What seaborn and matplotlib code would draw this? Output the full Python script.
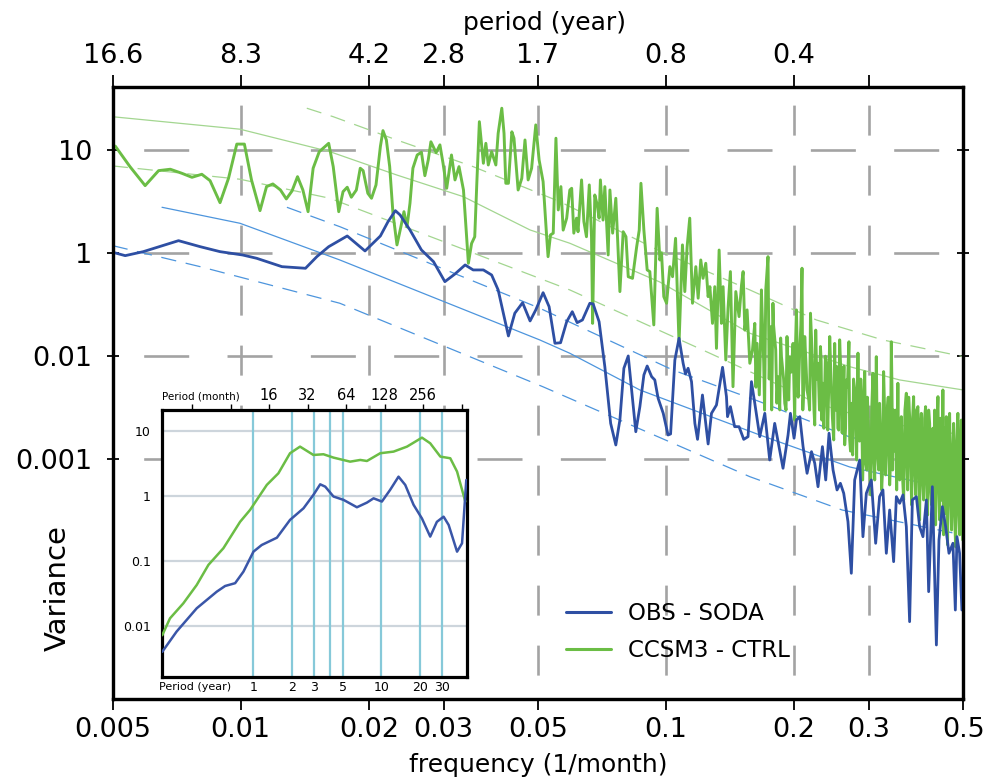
import numpy as np
import pandas as pd
import matplotlib
matplotlib.use("Agg")
import matplotlib.pyplot as plt
import seaborn as sns
from matplotlib.lines import Line2D

sns.set_theme(style="white")
plt.rcParams["font.family"] = ["DejaVu Sans"]
plt.rcParams["lines.scale_dashes"] = False
plt.rcParams["text.color"] = "black"
plt.rcParams["axes.labelcolor"] = "black"
plt.rcParams["xtick.color"] = "black"
plt.rcParams["ytick.color"] = "black"
plt.rcParams["axes.edgecolor"] = "black"

# ---------------- data ----------------
# OBS - SODA spectrum
obs_freq = [0.005, 0.00535, 0.0059, 0.00714, 0.00803, 0.00894, 0.0101, 0.0109, 0.0125, 0.0142,
            0.0151, 0.0161, 0.0178, 0.0196, 0.0213, 0.0222, 0.0231, 0.0237, 0.0250, 0.0266,
            0.0284, 0.0302, 0.0319, 0.0337, 0.0352, 0.0372, 0.0389, 0.0403, 0.0426, 0.0441,
            0.0460, 0.0479, 0.0494, 0.0514, 0.0531, 0.0548, 0.0565, 0.0584, 0.0602, 0.0618,
            0.0636, 0.0662, 0.0674, 0.0696, 0.0718, 0.0741, 0.0762, 0.0779, 0.0796, 0.0815,
            0.0830, 0.0849, 0.0868, 0.0887, 0.0903, 0.0925, 0.0941, 0.0958, 0.0985, 0.1011,
            0.1025, 0.1049, 0.1073, 0.1097, 0.1111, 0.1127, 0.1148, 0.1169, 0.1186, 0.1218,
            0.1256, 0.1279, 0.1314, 0.1358, 0.1387, 0.1395, 0.1417, 0.1450, 0.1485, 0.1523,
            0.1559, 0.1588, 0.1617, 0.1661, 0.1707, 0.1753, 0.1801, 0.1834, 0.1884, 0.1936,
            0.1961, 0.2000, 0.2026, 0.2063, 0.2100, 0.2146, 0.2198, 0.2237, 0.2277, 0.2332,
            0.2374, 0.2417, 0.2470, 0.2524, 0.2570, 0.2617, 0.2678, 0.2727, 0.2777, 0.2853,
            0.2904, 0.2958, 0.3039, 0.3111, 0.3178, 0.3236, 0.3296, 0.3356, 0.3429, 0.3480,
            0.3543, 0.3607, 0.3673, 0.3739, 0.3795, 0.3878, 0.3947, 0.4019, 0.4094, 0.4145,
            0.4229, 0.4322, 0.4383, 0.4464, 0.4544, 0.4627, 0.4727, 0.4789, 0.4831, 0.4901,
            0.4962]
obs_var = [1.018, 0.944, 1.032, 1.319, 1.153, 1.032, 0.958, 0.890, 0.738, 0.712,
           0.923, 1.153, 1.465, 1.048, 1.465, 2.017, 2.577, 2.342, 1.675, 1.072,
           0.825, 0.528, 0.627, 0.767, 0.686, 0.686, 0.613, 0.439, 0.157, 0.261,
           0.330, 0.2195, 0.281, 0.413, 0.302, 0.1334, 0.135, 0.216, 0.270, 0.2113,
           0.2245, 0.326, 0.321, 0.216, 0.0791, 0.0223, 0.01376, 0.0241, 0.0763, 0.1005,
           0.0470, 0.0185, 0.0324, 0.0657, 0.0803, 0.0633, 0.0588, 0.0391, 0.0279, 0.0172,
           0.0176, 0.0918, 0.1492, 0.0853, 0.0672, 0.0763, 0.0566, 0.0223, 0.0156, 0.0420,
           0.01407, 0.0279, 0.0336, 0.0780, 0.0405, 0.0259, 0.0324, 0.0207, 0.0207, 0.0156,
           0.01657, 0.0566, 0.0349, 0.01657, 0.0279, 0.00984, 0.0223, 0.01481, 0.00818, 0.0172,
           0.0279, 0.0160, 0.0241, 0.0259, 0.01326, 0.00731, 0.01185, 0.00915, 0.00542, 0.01326,
           0.00630, 0.01788, 0.00787, 0.00504, 0.00585, 0.00468, 0.00248, 0.000784, 0.00630, 0.00984,
           0.001775, 0.00468, 0.00630, 0.001532, 0.00434, 0.00504, 0.001225, 0.00322, 0.001016, 0.00434,
           0.00374, 0.00451, 0.00222, 0.000266, 0.00403, 0.00434, 0.00222, 0.001775, 0.00403, 0.000520,
           0.00542, 0.000158, 0.00165, 0.00347, 0.00222, 0.001226, 0.001532, 0.000345, 0.001775, 0.001226,
           0.000345]

# CCSM3 - CTRL spectrum
ctrl_freq = [0.00507, 0.00549, 0.00596, 0.00641, 0.00683, 0.00727, 0.00768, 0.00810, 0.00847, 0.00894,
             0.00936, 0.00979, 0.0102, 0.0106, 0.0111, 0.0115, 0.0119, 0.0124, 0.0128, 0.0132,
             0.0136, 0.0140, 0.0144, 0.0148, 0.0153, 0.0161, 0.0165, 0.0170, 0.0174, 0.0178,
             0.0182, 0.0187, 0.0191, 0.0194, 0.0199, 0.0203, 0.0208, 0.0213, 0.0216, 0.0220,
             0.0224, 0.0228, 0.0233, 0.0238, 0.0242, 0.0246, 0.0250, 0.0254, 0.0260, 0.0266,
             0.0271, 0.0276, 0.0280, 0.0288, 0.0294, 0.0299, 0.0305, 0.0313, 0.0319, 0.0326,
             0.0334, 0.0338, 0.0343, 0.0349, 0.0355, 0.0359, 0.0364, 0.0372, 0.0377, 0.0382,
             0.0389, 0.0398, 0.0403, 0.0411, 0.0416, 0.0420, 0.0426, 0.0434, 0.0439, 0.0449,
             0.0458, 0.0466, 0.0474, 0.0483, 0.0494, 0.0503, 0.0514, 0.0524, 0.0528, 0.0535,
             0.0543, 0.0551, 0.0558, 0.0566, 0.0573, 0.0584, 0.0594, 0.0600, 0.0607, 0.0616,
             0.0621, 0.0633, 0.0641, 0.0650, 0.0660, 0.0668, 0.0672, 0.0680, 0.0689, 0.0696,
             0.0701, 0.0711, 0.0718, 0.0731, 0.0738, 0.0749, 0.0762, 0.0779, 0.0793, 0.0805,
             0.0815, 0.0834, 0.0853, 0.0865, 0.0873, 0.0887, 0.0903, 0.0916, 0.0936, 0.0953,
             0.0967, 0.0976, 0.0988, 0.1003, 0.1021, 0.1036, 0.1053, 0.1073, 0.1093, 0.1107,
             0.1121, 0.1137, 0.1154, 0.1175, 0.1190, 0.1207, 0.1222, 0.1240, 0.1256, 0.1268,
             0.1286, 0.1302, 0.1314, 0.1333, 0.1350, 0.1362, 0.1382, 0.1399, 0.1417, 0.1437,
             0.1459, 0.1485, 0.1505, 0.1518, 0.1532, 0.1551, 0.1574,
             0.1597, 0.1617, 0.1637, 0.1657, 0.1676, 0.1697, 0.1716, 0.1737, 0.1760, 0.1772,
             0.1784, 0.1811, 0.1834, 0.1851, 0.1868, 0.1902, 0.1925, 0.1943, 0.1954, 0.1989,
             0.2007, 0.2026, 0.2063, 0.2088, 0.2097, 0.2119, 0.2146, 0.2166, 0.2186, 0.2217,
             0.2237, 0.2249, 0.2277, 0.2307, 0.2324, 0.2339, 0.2383, 0.2400, 0.2426, 0.2462,
             0.2479, 0.2492, 0.2524, 0.2547, 0.2560, 0.2607, 0.2631, 0.2655, 0.2692, 0.2703,
             0.2727, 0.2747, 0.2777, 0.2807, 0.2827, 0.2880, 0.2900, 0.2932, 0.2964, 0.2985,
             0.3028, 0.3066, 0.3095, 0.3122, 0.3162, 0.3178, 0.3214, 0.3248, 0.3284, 0.3307,
             0.3356, 0.3386, 0.3411, 0.3429, 0.3486, 0.3509, 0.3543, 0.3575, 0.3620, 0.3673,
             0.3699, 0.3739, 0.3780, 0.3821, 0.3863, 0.3911, 0.3947, 0.3984, 0.4033, 0.4077,
             0.4122, 0.4167, 0.4212, 0.4281, 0.4304, 0.4359, 0.4398, 0.4477, 0.4494, 0.4560,
             0.4592, 0.4643, 0.4693, 0.4745, 0.4797, 0.4856, 0.4902, 0.4946, 0.4982,
             0.1627, 0.1667, 0.1705, 0.1748, 0.1790, 0.1822, 0.1860, 0.1890, 0.1915, 0.1970,
             0.2015, 0.2045, 0.2075, 0.2108, 0.2132, 0.2176, 0.2205, 0.2228, 0.2262, 0.2295,
             0.2316, 0.2350, 0.2370, 0.2410, 0.2440, 0.2505, 0.2535, 0.2580, 0.2595, 0.2620,
             0.2643, 0.2670, 0.2715, 0.2760, 0.2795, 0.2815, 0.2850, 0.2870, 0.2915, 0.2950,
             0.2975, 0.3005, 0.3045, 0.3080, 0.3110, 0.3140, 0.3190, 0.3230, 0.3265, 0.3295,
             0.3330, 0.3370, 0.3398, 0.3455, 0.3470, 0.3525, 0.3560, 0.3597, 0.3645, 0.3685,
             0.3720, 0.3760, 0.3800, 0.3842, 0.3885, 0.3930, 0.3965, 0.4005, 0.4055, 0.4100,
             0.4145, 0.4190, 0.4240, 0.4260, 0.4330, 0.4380, 0.4420, 0.4455, 0.4520, 0.4540,
             0.4615, 0.4670, 0.4720, 0.4770, 0.4825, 0.4880, 0.4925, 0.4965]
ctrl_var = [10.9, 6.89, 4.51, 6.30, 6.50, 5.94, 5.43, 5.81, 5.04, 3.08,
            5.31, 11.4, 11.4, 5.12, 2.58, 4.41, 4.68, 4.09, 3.35, 4.00,
            5.51, 4.09, 2.52, 6.65, 9.63, 11.6, 6.89, 2.52, 3.94, 4.35,
            3.48, 4.09, 6.65, 6.30, 3.80, 3.40, 4.58, 10.8, 15.4, 12.5,
            6.89, 2.43, 1.20, 1.80, 2.52, 1.80, 3.04, 6.65, 8.94, 9.50,
            5.63, 8.0, 12.0, 9.42, 11.2, 7.43, 4.25, 8.94, 5.12, 6.89,
            4.09, 1.95, 0.796, 1.24, 1.44, 4.75, 18.8, 7.43, 11.6, 7.15,
            9.63, 7.15, 14.5, 25.4, 14.5, 4.75, 4.75, 15.0, 13.0, 4.09,
            5.31, 12.5, 5.12, 6.65, 17.5, 8.0, 4.93, 1.44, 0.923, 1.50,
            1.56, 13.0, 2.62, 4.41, 1.67, 2.18, 4.09, 4.25, 1.56, 2.18,
            1.61, 5.12, 2.02, 1.44, 4.58, 1.44, 0.208, 3.66, 2.93, 2.18,
            5.12, 2.09, 4.41, 0.959, 4.09, 1.56, 3.40, 0.423, 1.61, 1.44,
            0.590, 0.569, 1.15, 1.67, 4.75, 1.67, 0.686, 0.661, 0.201, 2.72,
            0.857, 0.996, 0.378, 0.326, 0.738, 0.590, 1.39, 0.133, 1.20, 0.423,
            1.15, 2.18, 0.326, 0.738, 0.365, 0.857, 0.569, 0.796, 0.378, 0.472,
            0.208, 0.472, 0.119, 1.07, 0.208, 0.472, 0.0918, 0.292, 0.661, 0.0506,
            0.423, 0.242, 0.491, 0.661, 0.179, 0.281, 0.0853,
            0.115, 0.208, 0.133, 0.0421, 0.439, 0.0853, 0.439, 0.923, 0.193, 0.0301,
            0.326, 0.115, 0.0632, 0.0301, 0.0989, 0.0349, 0.155, 0.0376, 0.0989, 0.133,
            0.0240, 0.281, 0.115, 0.713, 0.0301, 0.155, 0.047, 0.0376, 0.261, 0.0546,
            0.0215, 0.179, 0.0853, 0.124, 0.0240, 0.0546, 0.0853, 0.0192, 0.155, 0.025,
            0.0154, 0.133, 0.0791, 0.0192, 0.144, 0.0349, 0.0138, 0.0588, 0.138, 0.0154,
            0.0349, 0.0110, 0.047, 0.00984, 0.107, 0.047, 0.00630, 0.0708, 0.00787, 0.0279,
            0.00451, 0.0682, 0.00630, 0.0989, 0.00787, 0.0349, 0.00504, 0.0708, 0.00705, 0.0279,
            0.00564, 0.138, 0.00787, 0.030, 0.00504, 0.0546, 0.00630, 0.0259, 0.00403, 0.0437,
            0.00504, 0.0259, 0.00360, 0.0405, 0.00451, 0.0324, 0.00258, 0.0279, 0.00403, 0.0324,
            0.00288, 0.0223, 0.00360, 0.030, 0.00231, 0.0405, 0.00258, 0.047, 0.00185, 0.0259,
            0.00148, 0.0279, 0.00206, 0.0223, 0.00141, 0.0279, 0.00185, 0.024, 0.00165,
            0.05, 0.12, 0.03, 0.06, 0.2, 0.035, 0.15, 0.06, 0.03, 0.07,
            0.12, 0.04, 0.2, 0.05, 0.09, 0.03, 0.11, 0.03, 0.06, 0.03,
            0.09, 0.02, 0.1, 0.04, 0.07, 0.03, 0.02, 0.06, 0.018, 0.08,
            0.02, 0.05, 0.012, 0.06, 0.02, 0.04, 0.015, 0.06, 0.02, 0.009,
            0.04, 0.012, 0.03, 0.01, 0.03, 0.012, 0.02, 0.008, 0.03, 0.011,
            0.04, 0.009, 0.05, 0.012, 0.03, 0.008, 0.02, 0.007, 0.03, 0.009,
            0.04, 0.01, 0.025, 0.008, 0.03, 0.006, 0.02, 0.007, 0.025, 0.006,
            0.03, 0.005, 0.02, 0.004, 0.018, 0.005, 0.025, 0.004, 0.02, 0.003,
            0.015, 0.004, 0.012, 0.003, 0.015, 0.003, 0.012, 0.004]

# red-noise background and confidence curves
obs_bg_freq = [0.00653, 0.00996, 0.0171, 0.0505, 0.0594, 0.0868, 0.1661, 0.2703, 0.5]
obs_bg_var = [2.78, 1.945, 0.857, 0.1436, 0.1067, 0.0470, 0.0172, 0.00842, 0.00482]
obs_hi_freq = [0.01284, 0.0171, 0.0505, 0.1037, 0.1661, 0.2703, 0.5]
obs_hi_var = [2.78, 1.803, 0.2915, 0.0735, 0.0362, 0.01646, 0.00941]
obs_lo_freq = [0.005, 0.00803, 0.0171, 0.0513, 0.1574, 0.2595, 0.5]
obs_lo_var = [1.18, 0.738, 0.326, 0.0506, 0.00678, 0.00322, 0.00184]
ctrl_bg_freq = [0.005, 0.00996, 0.0162, 0.02327, 0.0334, 0.0479, 0.0594, 0.0967, 0.1574, 0.2703, 0.3543, 0.5]
ctrl_bg_var = [21.0, 15.9, 9.63, 5.72, 3.52, 1.675, 1.245, 0.524, 0.1668, 0.0791, 0.0588, 0.0470]
ctrl_hi_freq = [0.0143, 0.01651, 0.02327, 0.0352, 0.0563, 0.0967, 0.1574, 0.2257, 0.3236, 0.5]
ctrl_hi_var = [25.4, 21.0, 12.5, 6.89, 3.15, 1.048, 0.439, 0.2245, 0.1436, 0.0989]
ctrl_lo_freq = [0.005, 0.00996, 0.0162, 0.0310, 0.0594, 0.1268, 0.1954, 0.2257, 0.3178, 0.5]
ctrl_lo_var = [7.0, 5.20, 3.40, 1.225, 0.439, 0.1067, 0.0470, 0.0349, 0.0230, 0.0172]

# inset: smoothed spectra against period (months)
inset_obs_period = [2.34, 3.03, 4.35, 6.24, 7.25, 8.68, 10.08, 12.07, 14.0, 18.4, 23.3, 29.7, 35.5,
                    40.1, 43.9, 50.9, 61, 77.6, 92.9, 104.7, 121.6, 141, 164, 185, 215, 250, 290,
                    327, 369, 404, 470, 514, 555]
inset_obs_var = [0.0040, 0.0082, 0.0187, 0.0337, 0.0412, 0.0455, 0.0685, 0.139, 0.176, 0.228, 0.428,
                 0.646, 1.04, 1.51, 1.39, 0.98, 0.87, 0.67, 0.79, 0.92, 0.82, 1.24, 1.98, 1.48, 0.73,
                 0.45, 0.237, 0.40, 0.48, 0.358, 0.139, 0.187, 1.76]
inset_ctrl_period = [2.34, 2.69, 3.42, 4.35, 5.37, 7.03, 9.49, 11.36, 15.35, 18.9, 23.3, 27.9, 35.5,
                     42.5, 50.9, 68.7, 82.4, 92.9, 118, 150, 191, 250, 290, 348, 416, 470, 545]
inset_ctrl_var = [0.0072, 0.0131, 0.0223, 0.0427, 0.087, 0.157, 0.40, 0.61, 1.48, 2.23, 4.54, 5.74,
                  4.27, 4.38, 3.89, 3.37, 3.58, 3.45, 4.54, 4.81, 5.74, 7.89, 6.46, 4.03, 3.80, 2.37,
                  0.82]

# tick values and labels
x_ticks = [0.005, 0.01, 0.02, 0.03, 0.05, 0.1, 0.2, 0.3, 0.5]
x_labels = ["0.005", "0.01", "0.02", "0.03", "0.05", "0.1", "0.2", "0.3", "0.5"]
top_ticks = [0.005, 0.01, 0.02, 0.03, 0.05, 0.1, 0.2, 0.3]
top_labels = ["16.6", "8.3", "4.2", "2.8", "1.7", "0.8", "0.4", ""]
y_ticks = [10, 1, 0.1, 0.01]
y_labels = ["10", "1", "0.01", "0.001"]
grid_x = [0.01, 0.02, 0.03, 0.05, 0.1, 0.2, 0.3]
inset_year_ticks = [12, 24, 36, 60, 120, 240, 360]
inset_year_labels = ["1", "2", "3", "5", "10", "20", "30"]
inset_year_lines = [12, 24, 36, 48, 60, 120, 240, 360]
inset_month_ticks = [4, 8, 16, 32, 64, 128, 256, 512]
inset_month_labels = ["", "", "16", "32", "64", "128", "256", ""]
inset_y_ticks = [10, 1, 0.1, 0.01]
inset_y_labels = ["10", "1", "0.1", "0.01"]
series_names = ["OBS - SODA", "CCSM3 - CTRL"]

# ---------------- styling ----------------
BLUE = "#2e4fa3"
GREEN = "#6bbd45"
LBLUE = "#4d95dd"
LGREEN = "#a3d690"
GRID = "#a3a3a3"

W, H = 988, 778
fig = plt.figure(figsize=(W / 100, H / 100), dpi=100)
fig.patch.set_facecolor("white")

L, R, T, B = 112.7, 963.3, 87, 699
ax = fig.add_axes([L / W, 1 - B / H, (R - L) / W, (B - T) / H])
ax.set_facecolor("white")
ax.set_xscale("log")
ax.set_yscale("log")
ax.set_xlim(0.005, 0.5)
ax.set_ylim(4.73e-5, 40.8)

# dashed grid
for gx in grid_x:
    ax.axvline(gx, color=GRID, lw=1.9, ls=(26, (21.6, 21.6)), zorder=0.5)
for gy in y_ticks:
    ax.axhline(gy, color=GRID, lw=1.9, ls=(37.9, (32.4, 27.6)), zorder=0.5)

def frame(x, y):
    return pd.DataFrame({"x": x, "y": y})

# background curves
thin = dict(lw=0.9, zorder=1, legend=False, estimator=None)
sns.lineplot(data=frame(ctrl_bg_freq, ctrl_bg_var), x="x", y="y", ax=ax, color=LGREEN, **thin)
sns.lineplot(data=frame(ctrl_hi_freq, ctrl_hi_var), x="x", y="y", ax=ax, color=LGREEN,
             linestyle=(0, (11, 7)), **thin)
sns.lineplot(data=frame(ctrl_lo_freq, ctrl_lo_var), x="x", y="y", ax=ax, color=LGREEN,
             linestyle=(0, (11, 7)), **thin)
sns.lineplot(data=frame(obs_bg_freq, obs_bg_var), x="x", y="y", ax=ax, color=LBLUE, **thin)
sns.lineplot(data=frame(obs_hi_freq, obs_hi_var), x="x", y="y", ax=ax, color=LBLUE,
             linestyle=(0, (11, 7)), **thin)
sns.lineplot(data=frame(obs_lo_freq, obs_lo_var), x="x", y="y", ax=ax, color=LBLUE,
             linestyle=(0, (11, 7)), **thin)

# spectra
sns.lineplot(data=frame(ctrl_freq, ctrl_var), x="x", y="y", ax=ax, color=GREEN, lw=2.1,
             zorder=3, legend=False, estimator=None, sort=True)
sns.lineplot(data=frame(obs_freq, obs_var), x="x", y="y", ax=ax, color=BLUE, lw=2.0,
             zorder=4, legend=False, estimator=None, sort=True)

ax.set_xlim(0.005, 0.5)
ax.set_ylim(4.73e-5, 40.8)
ax.minorticks_off()
ax.set_xticks(x_ticks)
ax.set_xticklabels(x_labels)
ax.set_yticks(y_ticks)
ax.set_yticklabels(y_labels)
ax.tick_params(axis="x", which="major", direction="out", length=8, width=1.3,
               labelsize=19.5, pad=5, colors="black", bottom=True, top=False)
ax.tick_params(axis="y", which="major", direction="inout", length=9, width=1.3,
               labelsize=19.5, pad=10, colors="black", left=True, right=True)
ax.set_xlabel("frequency (1/month)", fontsize=18, color="black")
ax.xaxis.set_label_coords(0.5, (B - 753) / (B - T))
ax.set_ylabel("")
for s in ax.spines.values():
    s.set_linewidth(2.3)
    s.set_color("black")

# top axis: period in years
ax2 = ax.twiny()
ax2.set_xscale("log")
ax2.set_xlim(0.005, 0.5)
ax2.minorticks_off()
ax2.set_xticks(top_ticks)
ax2.set_xticklabels(top_labels)
ax2.tick_params(axis="x", direction="out", length=9, width=1.3, labelsize=19.5, pad=4,
                colors="black")
ax2.set_xlabel("period (year)", fontsize=18, color="black")
ax2.xaxis.set_label_coords((545 - L) / (R - L), (B - 30) / (B - T))
for s in ax2.spines.values():
    s.set_linewidth(2.3)
    s.set_color("black")

fig.text(58 / W, 1 - 588 / H, "Variance", rotation=90, ha="center", va="center",
         fontsize=21, color="black")

ax.legend(handles=[Line2D([], [], color=BLUE, lw=2.2), Line2D([], [], color=GREEN, lw=2.2)],
          labels=series_names, loc="upper left", bbox_to_anchor=(566 / W, 1 - 602 / H),
          bbox_transform=fig.transFigure, frameon=False, fontsize=16.5, handlelength=1.95,
          handletextpad=0.75, labelspacing=0.6, borderpad=0, borderaxespad=0)

# ---------------- inset ----------------
iL, iR, iT, iB = 162, 467, 410, 677
axi = fig.add_axes([iL / W, 1 - iB / H, (iR - iL) / W, (iB - iT) / H])
axi.set_facecolor("white")
axi.set_xscale("log")
axi.set_yscale("log")
for p in inset_year_lines:
    axi.axvline(p, color="#86c9d9", lw=1.6, zorder=0.6)
for v in inset_y_ticks:
    axi.axhline(v, color="#cdd5dc", lw=1.6, zorder=0.5)
sns.lineplot(data=frame(inset_ctrl_period, inset_ctrl_var), x="x", y="y", ax=axi, color=GREEN,
             lw=1.8, zorder=3, legend=False, estimator=None)
sns.lineplot(data=frame(inset_obs_period, inset_obs_var), x="x", y="y", ax=axi, color="#3a56a8",
             lw=1.8, zorder=3, legend=False, estimator=None)
axi.set_xlim(2.33, 562)
axi.set_ylim(0.00164, 21)
axi.minorticks_off()
axi.set_xticks(inset_year_ticks)
axi.set_xticklabels(inset_year_labels)
axi.set_yticks(inset_y_ticks)
axi.set_yticklabels(inset_y_labels)
axi.tick_params(axis="x", length=0, labelsize=9, pad=3, colors="black")
axi.tick_params(axis="y", length=0, labelsize=9, pad=8, colors="black")
axi.set_xlabel("")
axi.set_ylabel("")
for s in axi.spines.values():
    s.set_linewidth(2.3)
    s.set_color("black")
axt = axi.secondary_xaxis("top")
axt.set_xticks(inset_month_ticks)
axt.set_xticklabels(inset_month_labels)
axt.minorticks_off()
axt.tick_params(axis="x", direction="out", length=4, width=1.0, labelsize=10.5, pad=1,
                colors="black")
axi.text(0.0, 1.052, "Period (month)", transform=axi.transAxes, fontsize=7.5,
         ha="left", va="center", color="black")
axi.text(-0.01, -0.038, "Period (year)", transform=axi.transAxes, fontsize=8,
         ha="left", va="center", color="black")

fig.savefig("out.png", dpi=100, facecolor="white")
